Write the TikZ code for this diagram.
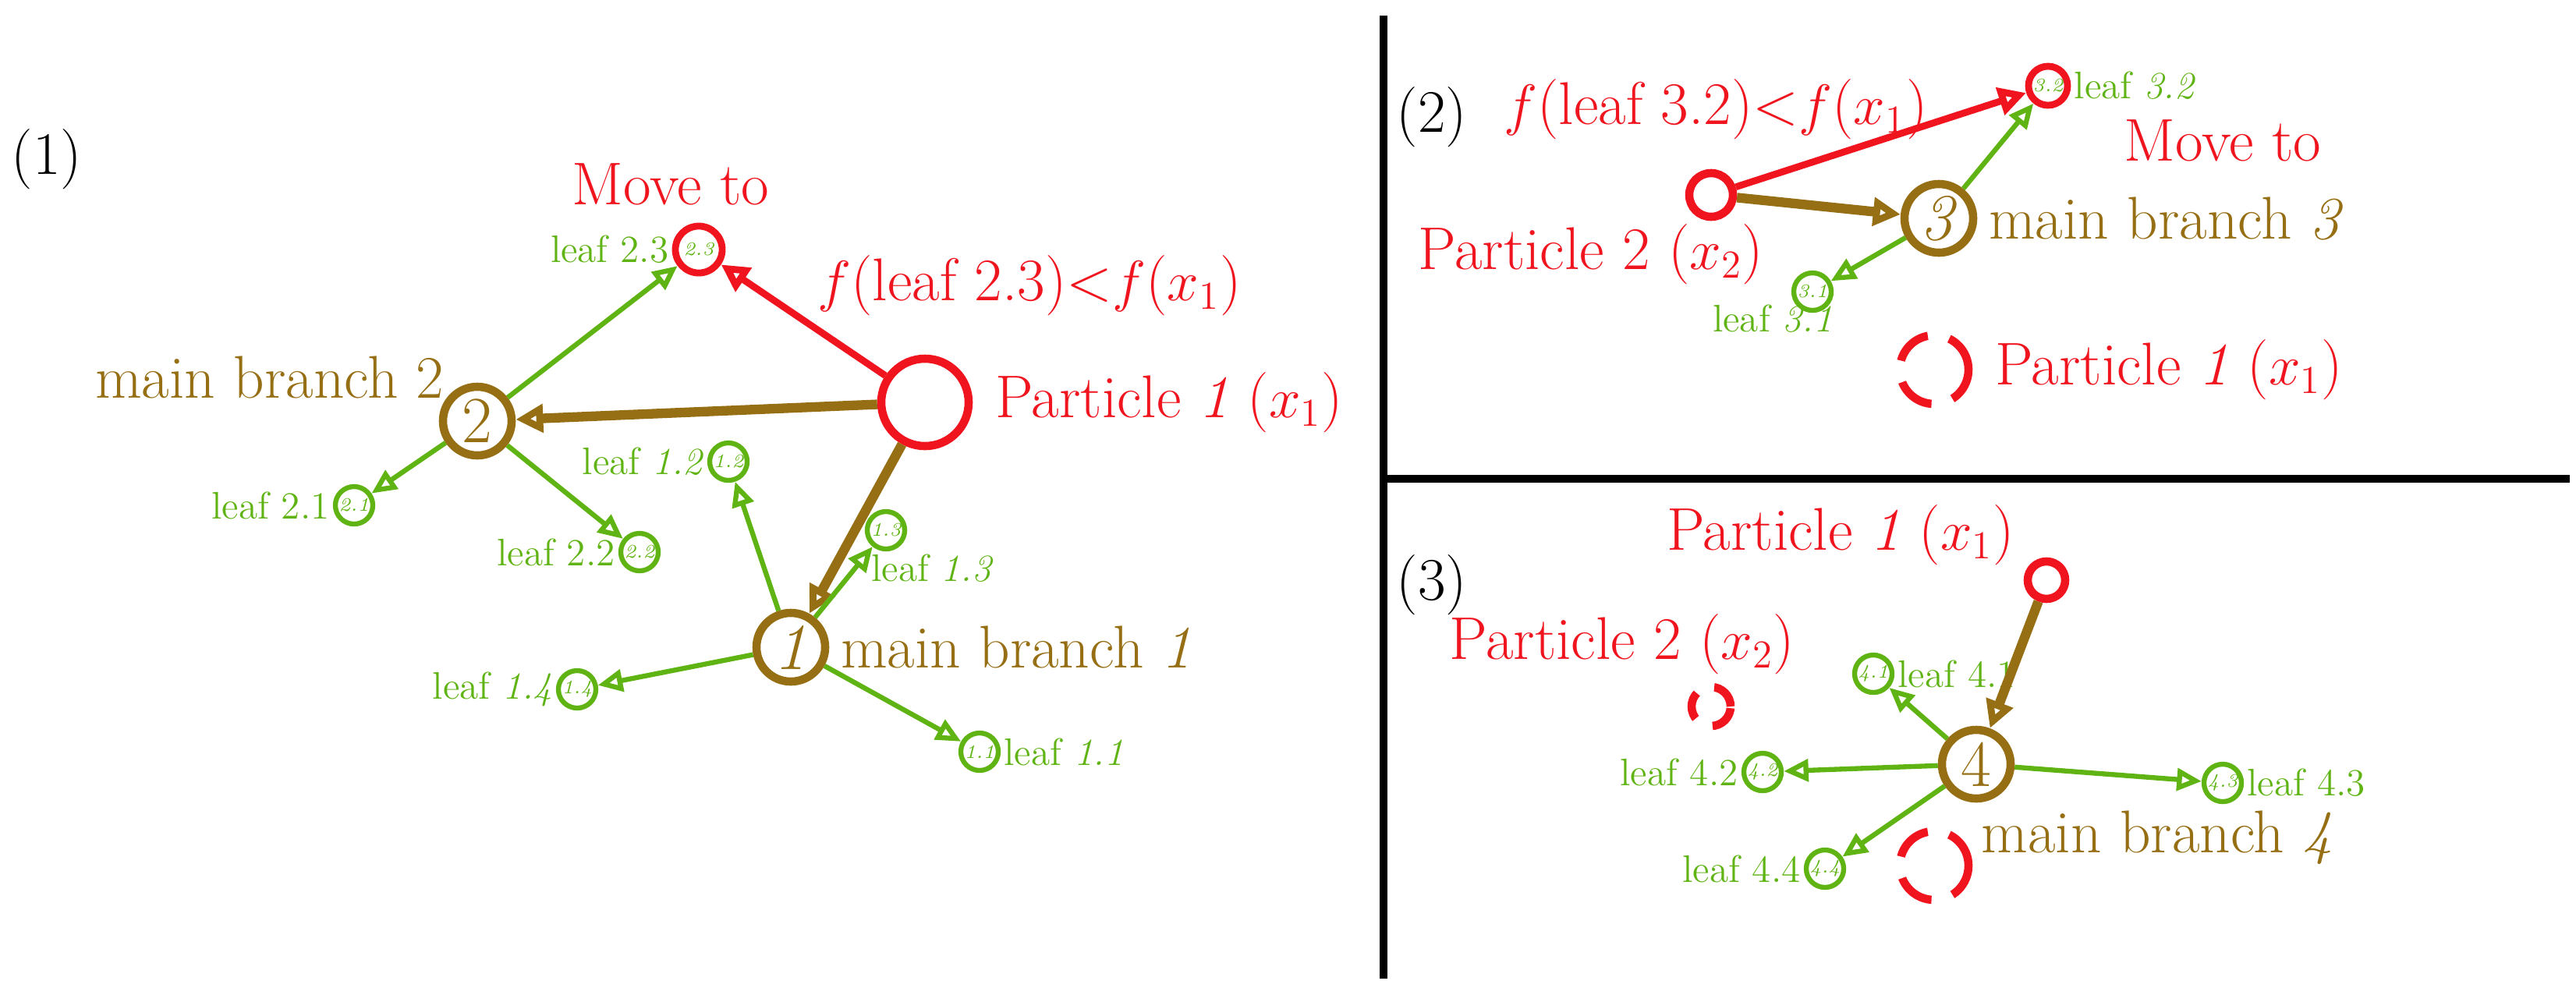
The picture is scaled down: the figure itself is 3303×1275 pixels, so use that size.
\documentclass[tikz,border=0pt]{standalone}
\usepackage{amsmath}
\usepackage{tikz}
\usetikzlibrary{arrows.meta,positioning}
\definecolor{pred}{RGB}{240,20,30}
\definecolor{pbrown}{RGB}{150,110,20}
\definecolor{pgreen}{RGB}{95,180,20}
\tikzset{
  part/.style={circle,draw=pred,line width=3pt,inner sep=0pt},
  ghost/.style={circle,draw=pred,line width=3pt,dash pattern=on 14pt off 8pt,inner sep=0pt,minimum size=0.88cm},
  main/.style={circle,draw=pbrown,line width=3pt,inner sep=0pt,minimum size=0.88cm,text=pbrown,font=\fontsize{24}{26}\selectfont},
  leaf/.style={circle,draw=pgreen,line width=1.8pt,inner sep=0pt,minimum size=0.48cm,text=pgreen,font=\fontsize{7}{8}\selectfont\itshape},
  lab/.style={text=pgreen,font=\fontsize{14}{16}\selectfont,inner sep=1pt},
  big/.style={font=\fontsize{22}{26}\selectfont,inner sep=0pt},
  ga/.style={draw=pgreen,line width=1.8pt,-{Triangle[open,length=9pt,width=8pt]}},
  ba/.style={draw=pbrown,line width=3.5pt,-{Triangle[open,length=10pt,width=10pt]}},
  ra/.style={draw=pred,line width=2.5pt,-{Triangle[open,length=10pt,width=10pt]}}
}
\begin{document}
\begin{tikzpicture}[x=0.01cm,y=-0.01cm]
\useasboundingbox (0,0) rectangle (3303,1275);
% frame lines
\coordinate (vt) at (1774,20);
\coordinate (vb) at (1774,1255);
\coordinate (hl) at (1774,614);
\coordinate (hr) at (3295,614);
\draw[line width=3pt] (vt) -- (vb);
\draw[line width=3pt] (hl) -- (hr);

% panel 1
\node[big] (t1) at (60,204) {(1)};
\node[part,minimum size=1.12cm] (p1) at (1186,516) {};
\node[main] (m2) at (612,540) {2};
\node[main] (m1) at (1014,830) {\textit{1}};
\node[part,minimum size=0.6cm,line width=2.5pt,text=pgreen,font=\fontsize{7}{8}\selectfont\itshape] (l23) at (896,320) {2.3};
\node[leaf] (l21) at (454,648) {2.1};
\node[leaf] (l22) at (820,708) {2.2};
\node[leaf] (l12) at (934,592) {1.2};
\node[leaf] (l13) at (1136,680) {1.3};
\node[leaf] (l14) at (740,884) {1.4};
\node[leaf] (l11) at (1256,964) {1.1};
\node[lab,left=0pt of l23] {leaf 2.3};
\node[lab,left=0pt of l21] {leaf 2.1};
\node[lab,left=0pt of l22] {leaf 2.2};
\node[lab,left=0pt of l12] {leaf \textit{1.2}};
\node[lab,below right=2pt and -12pt of l13] {leaf \textit{1.3}};
\node[lab,left=0pt of l14] {leaf \textit{1.4}};
\node[lab,right=0pt of l11] {leaf \textit{1.1}};
\node[big,text=pred] (mv1) at (860,236) {Move to};
\node[big,text=pred] (f1) at (1320,366) {$f$(leaf 2.3)<$f$($x_1$)};
\node[big,text=pred,right=8pt of p1] {Particle \textit{1} ($x_1$)};
\node[big,text=pbrown,above left=-2pt and 2pt of m2] {main branch 2};
\node[big,text=pbrown,right=4pt of m1] {main branch \textit{1}};
\draw[ba] (p1) -- (m2);
\draw[ba] (p1) -- (m1);
\draw[ra] (p1) -- (l23);
\draw[ga] (m2) -- (l23);
\draw[ga] (m2) -- (l21);
\draw[ga] (m2) -- (l22);
\draw[ga] (m1) -- (l12);
\draw[ga] (m1) -- (l13);
\draw[ga] (m1) -- (l14);
\draw[ga] (m1) -- (l11);

% panel 2
\node[big] (t2) at (1836,150) {(2)};
\node[big,text=pred] (f2) at (2200,140) {$f$(leaf 3.2)<$f$($x_1$)};
\node[part,minimum size=0.56cm] (p2) at (2194,250) {};
\node[main] (m3) at (2486,280) {\textit{3}};
\node[part,minimum size=0.5cm,line width=2.5pt,text=pgreen,font=\fontsize{7}{8}\selectfont\itshape] (l32) at (2626,110) {3.2};
\node[leaf] (l31) at (2324,374) {3.1};
\node[ghost] (g1) at (2480,474) {};
\node[lab,right=0pt of l32] {leaf \textit{3.2}};
\node[lab,below left=-2pt and -14pt of l31] {leaf \textit{3.1}};
\node[big,text=pred] at (2850,180) {Move to};
\node[big,text=pbrown,right=4pt of m3] {main branch \textit{3}};
\node[big,text=pred] at (2040,326) {Particle 2 ($x_2$)};
\node[big,text=pred,right=8pt of g1] {Particle \textit{1} ($x_1$)};
\draw[ra] (p2) -- (l32);
\draw[ba] (p2) -- (m3);
\draw[ga] (m3) -- (l32);
\draw[ga] (m3) -- (l31);

% panel 3
\node[big] (t3) at (1836,750) {(3)};
\node[big,text=pred] at (2360,686) {Particle \textit{1} ($x_1$)};
\node[part,minimum size=0.48cm] (p3) at (2624,744) {};
\node[big,text=pred] at (2080,826) {Particle 2 ($x_2$)};
\node[ghost,minimum size=0.5cm,dash pattern=on 10pt off 7pt] (g2) at (2194,906) {};
\node[main] (m4) at (2534,980) {4};
\node[leaf] (l41) at (2402,864) {4.1};
\node[leaf] (l42) at (2260,990) {4.2};
\node[leaf] (l43) at (2850,1004) {4.3};
\node[leaf] (l44) at (2340,1114) {4.4};
\node[ghost] (g3) at (2480,1110) {};
\node[lab,right=0pt of l41] {leaf 4.1};
\node[lab,left=0pt of l42] {leaf 4.2};
\node[lab,right=0pt of l43] {leaf 4.3};
\node[lab,left=0pt of l44] {leaf 4.4};
\node[big,text=pbrown,anchor=west] at (2540,1074) {main branch \textit{4}};
\draw[ba] (p3) -- (m4);
\draw[ga] (m4) -- (l41);
\draw[ga] (m4) -- (l42);
\draw[ga] (m4) -- (l43);
\draw[ga] (m4) -- (l44);
\end{tikzpicture}
\end{document}
